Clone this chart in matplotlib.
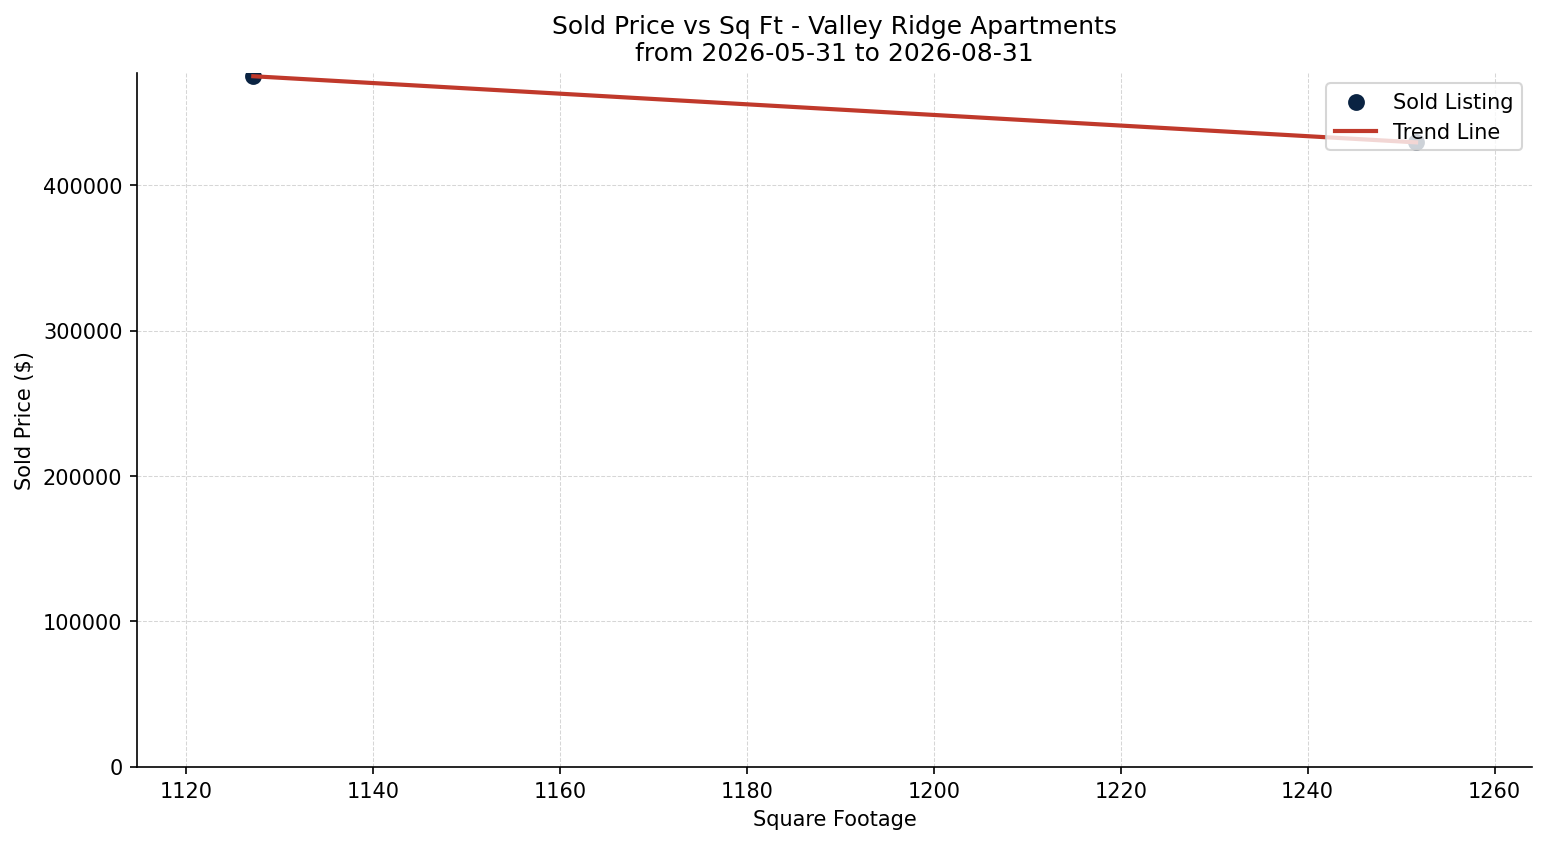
import matplotlib
matplotlib.use("Agg")
import matplotlib.pyplot as plt
import numpy as np

sqft = [1127.2, 1251.6]
price = [475000, 429500]

fig, ax = plt.subplots(figsize=(10.313, 5.633), dpi=150)
ax.scatter(sqft, price, s=50, color="#0a2342", label="Sold Listing", zorder=2)
coef = np.polyfit(sqft, price, 1)
xs = np.array([min(sqft), max(sqft)])
ax.plot(xs, np.polyval(coef, xs), color="#c0392b", lw=2, label="Trend Line", zorder=3)

rng = max(sqft) - min(sqft)
ax.set_xlim(min(sqft) - 0.1 * rng, max(sqft) + 0.1 * rng)
ax.set_ylim(bottom=0)
ax.set_title("Sold Price vs Sq Ft - Valley Ridge Apartments\nfrom 2026-05-31 to 2026-08-31")
ax.set_xlabel("Square Footage")
ax.set_ylabel("Sold Price ($)")
ax.grid(True, linestyle="--", linewidth=0.5, color="#cccccc", alpha=0.8)
ax.set_axisbelow(True)
ax.spines["top"].set_visible(False)
ax.spines["right"].set_visible(False)
ax.legend(loc="upper right")
fig.tight_layout(pad=0.7)
fig.savefig("out.png", dpi=150)
